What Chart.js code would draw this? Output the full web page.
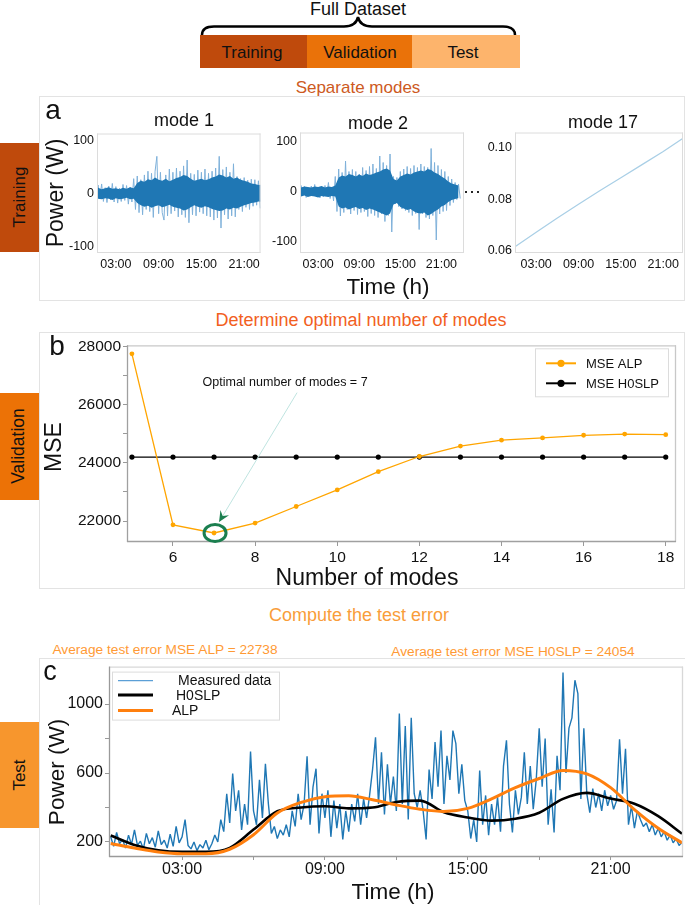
<!DOCTYPE html>
<html>
<head>
<meta charset="utf-8">
<script src="https://cdn.jsdelivr.net/npm/chart.js@4.4.1/dist/chart.umd.min.js"></script>
<style>
  body { margin: 0; background: #fff; font-family: "Liberation Sans", Arial, sans-serif; color: #111; }
  #fig { position: relative; width: 685px; height: 905px; overflow: hidden; background: #fff; }
  canvas { position: absolute; }
  .t { position: absolute; white-space: nowrap; line-height: 1; transform: translate(-50%, -50%); }
  .r { transform: translate(-50%, -50%) rotate(-90deg); }
  .panel { position: absolute; border: 1.5px solid #e3e3e3; box-sizing: border-box; }
  .blk { position: absolute; }
</style>
</head>
<body>
<div id="fig">
  <!-- dataset split -->
  <div class="t" style="left:358px;top:9px;font-size:18px">Full Dataset</div>
  <svg class="blk" style="left:0;top:0" width="685" height="40">
    <path d="M202,35 Q202,26.5 214,26.5 L344,26.5 Q356,26.5 358,17 Q360,26.5 372,26.5 L503,26.5 Q515,26.5 515,35" fill="none" stroke="#000" stroke-width="2.5"/>
  </svg>
  <div class="blk" style="left:200px;top:35px;width:107px;height:33px;background:#BF4A0C"></div>
  <div class="blk" style="left:307px;top:35px;width:105px;height:33px;background:#EA7209"></div>
  <div class="blk" style="left:412px;top:35px;width:108px;height:33px;background:#FDB46C"></div>
  <div class="t" style="left:252px;top:52px;font-size:17px">Training</div>
  <div class="t" style="left:360px;top:52px;font-size:17px">Validation</div>
  <div class="t" style="left:463px;top:52px;font-size:17px">Test</div>

  <!-- panel a -->
  <div class="t" style="left:358px;top:87px;font-size:17px;color:#CD5A1E">Separate modes</div>
  <div class="panel" style="left:39px;top:96px;width:646px;height:205px"></div>
  <div class="blk" style="left:0;top:143px;width:39px;height:109px;background:#BF4A0C"></div>
  <div class="t r" style="left:19px;top:197px;font-size:17px">Training</div>

  <!-- panel b -->
  <div class="t" style="left:361px;top:320px;font-size:18px;color:#F2601E">Determine optimal number of modes</div>
  <div class="panel" style="left:39px;top:332px;width:646px;height:257px"></div>
  <div class="blk" style="left:0;top:393px;width:39px;height:107px;background:#EC7206"></div>
  <div class="t r" style="left:19px;top:446px;font-size:17.5px">Validation</div>

  <!-- panel c -->
  <div class="t" style="left:359px;top:615px;font-size:18px;color:#F99D3A">Compute the test error</div>
  <div class="t" style="left:165px;top:650px;font-size:13.7px;color:#FF9A35">Average test error MSE ALP = 22738</div>
  <div class="t" style="left:513px;top:652px;font-size:13.7px;color:#FF9A35">Average test error MSE H0SLP = 24054</div>
  <div class="panel" style="left:39px;top:658px;width:660px;height:260px"></div>
  <div class="blk" style="left:0;top:722px;width:39px;height:106px;background:#F7962D"></div>
  <div class="t r" style="left:19px;top:775px;font-size:17px">Test</div>

  <canvas id="mode1"></canvas>
  <canvas id="mode2"></canvas>
  <canvas id="mode17"></canvas>
  <canvas id="mseChart"></canvas>
  <canvas id="testChart"></canvas>

  <div class="t" style="left:53px;top:110px;font-size:28px">a</div>
  <div class="t r" style="left:55px;top:193px;font-size:23px">Power (W)</div>
  <div class="t" style="left:184px;top:120px;font-size:18px">mode 1</div>
  <div class="t" style="left:378px;top:123px;font-size:18px">mode 2</div>
  <div class="t" style="left:603px;top:122px;font-size:18px">mode 17</div>
  <div class="t" style="left:472px;top:191px;font-size:18px">&#8943;</div>
  <div class="t" style="left:388px;top:287px;font-size:22.5px">Time (h)</div>

  <div class="t" style="left:57px;top:346px;font-size:28px">b</div>
  <div class="t r" style="left:53px;top:447px;font-size:23px">MSE</div>
  <div class="t" style="left:367px;top:577px;font-size:23px">Number of modes</div>

  <div class="t" style="left:50px;top:671px;font-size:27px">c</div>
  <div class="t r" style="left:57px;top:772px;font-size:22.5px">Power (W)</div>
  <div class="t" style="left:393px;top:892px;font-size:22.5px">Time (h)</div>
</div>

<script>
// ---- values ----
const timeTicks = [3, 9, 15, 21];
const timeTickLabels = ['03:00', '09:00', '15:00', '21:00'];
const timeMinor = [6, 12, 18];

// training modes: spikes, one sample every 15 min from 00:00
const modeStep = 0.25;
const mode1 = [
  12, -14, 16, -10, 18, -15, 11, -17,
  14, -12, 19, -16, 13, -18, 10, -15,
  17, -13, 15, -20, 12, -16, 28, -30,
  33, -36, 26, -40, 35, -30, 42, -34,
  38, -45, 42, 70, -38, 40, -36, -50,
  35, -42, 46, -38, 40, -33, 48, -44,
  42, -40, 52, -45, 63, -55, 38, -40,
  36, -42, 44, -35, 40, -38, 46, -42,
  38, -44, 42, -50, 48, -46, 70, -65,
  45, -40, 50, -48, 40, -42, 56, -44,
  32, -30, 28, -34, 30, -26, 25, -30,
  27, -24, 26, -22, 24, -28
];
const mode2 = [
  8, -10, 12, -7, 10, -12, 6, -9,
  11, -8, 14, -10, 9, -13, 7, -11,
  12, -9, 18, -14, 8, -19, 30, -40,
  45, -49, 38, -42, 61, -36, 40, -45,
  44, -38, 40, -46, 35, -42, 48, -40,
  42, -50, 50, -44, 55, -48, 46, -52,
  71, -45, 58, -60, 52, -48, 75, -81,
  30, -25, 28, -30, 40, -35, 45, -38,
  50, -42, 46, -48, 52, -44, 48, -76,
  55, -45, 50, -52, 48, -55, 86, -48,
  58, -97, 52, -45, 44, -40, 40, -38,
  30, -28, 25, -22, 18, -16, 15, -14
];
// dense core of each mode, every 30 min from 00:00
const coreStep = 0.5;
const mode1Upper = [
  9, 11, 8, 10, 12, 9, 10, 8, 11, 9, 12, 10,
  20, 24, 22, 27, 25, 30, 26, 24, 28, 23, 26, 29,
  31, 35, 33, 28, 24, 26, 28, 25, 27, 30, 32, 36,
  34, 30, 33, 28, 30, 26, 24, 22, 19, 18, 16, 17
];
const mode1Lower = [
  -9, -10, -11, -9, -10, -12, -9, -11, -10, -8, -11, -10,
  -18, -22, -25, -23, -27, -24, -22, -26, -24, -21, -25, -27,
  -28, -32, -30, -26, -22, -25, -27, -24, -26, -29, -31, -33,
  -32, -28, -30, -27, -28, -25, -22, -20, -18, -17, -15, -16
];
const mode2Upper = [
  9, 8, 10, 9, 8, 10, 9, 11, 8, 10, 9, 12,
  28, 32, 30, 35, 33, 30, 34, 31, 36, 33, 35, 38,
  40, 44, 46, 42, 25, 22, 30, 33, 36, 34, 38, 40,
  42, 40, 45, 43, 38, 35, 30, 26, 20, 16, 14, 12
];
const mode2Lower = [
  -9, -10, -8, -11, -9, -10, -12, -9, -10, -11, -9, -10,
  -30, -34, -32, -36, -33, -31, -35, -33, -37, -34, -36, -39,
  -42, -45, -48, -44, -26, -23, -31, -34, -37, -35, -40, -43,
  -44, -42, -48, -45, -40, -36, -30, -27, -21, -17, -15, -13
];
const mode17Hours = [0, 3, 6, 9, 12, 15, 18, 21, 23.8];
const mode17 = [0.0616, 0.0672, 0.0727, 0.0780, 0.0832, 0.0882, 0.0933, 0.0984, 0.1035];
const modeTicks = [-100, 0, 100];
const modeTickLabels = ['-100', '0', '100'];
const mode17Ticks = [0.06, 0.08, 0.10];
const mode17TickLabels = ['0.06', '0.08', '0.10'];

// validation MSE
const nModes = [5, 6, 7, 8, 9, 10, 11, 12, 13, 14, 15, 16, 17, 18];
const mseAlp = [27750, 21870, 21590, 21930, 22500, 23070, 23700, 24220, 24580, 24780, 24860, 24950, 24990, 24970];
const mseH0slp = [24200, 24200, 24200, 24200, 24200, 24200, 24200, 24200, 24200, 24200, 24200, 24200, 24200, 24200];
const mseTicks = [22000, 24000, 26000, 28000];
const mseTickLabels = ['22000', '24000', '26000', '28000'];
const mseMinor = [23000, 25000, 27000];
const nModeTicks = [6, 8, 10, 12, 14, 16, 18];
const nModeTickLabels = ['6', '8', '10', '12', '14', '16', '18'];

// test day, measured power every 7.5 min from 00:00
const testStep = 0.125;
const measured = [
  230, 175, 255, 190, 215, 165, 240, 185,
  270, 180, 205, 160, 250, 190, 225, 170,
  265, 185, 210, 165, 245, 175, 290, 195,
  230, 330, 180, 160, 200, 150, 185, 165,
  210, 155, 190, 240, 200, 330, 260, 480,
  310, 597, 380, 500, 270, 420, 300, 724,
  380, 300, 560, 340, 653, 420, 250, 290,
  220, 270, 240, 300, 230, 380, 290, 480,
  330, 420, 697, 300, 520, 625, 250, 480,
  340, 500, 230, 440, 280, 420, 215, 380,
  260, 420, 320, 480, 300, 450, 340, 470,
  620, 807, 420, 720, 360, 650, 420, 580,
  380, 945, 420, 873, 330, 920, 480, 400,
  500, 380, 215, 620, 450, 780, 520, 846,
  420, 700, 560, 846, 770, 480, 650, 440,
  380, 220, 330, 200, 614, 300, 470, 240,
  420, 300, 460, 260, 640, 790, 420, 255,
  500, 360, 460, 720, 420, 640, 390, 560,
  860, 520, 800, 300, 505, 255, 700, 500,
  1183, 600, 860, 920, 1138, 1060, 450, 860,
  480, 370, 510, 400, 480, 380, 500, 410,
  470, 390, 440, 795, 480, 740, 300, 410,
  280, 380, 330, 290, 310, 260, 300, 240,
  280, 230, 260, 210, 240, 195, 220, 180,
  200
];
const curveHours = [0, 1, 2, 3, 4, 5, 6, 7, 8, 9, 10, 11, 12, 13, 14, 15, 16, 17, 18, 19, 20, 21, 22, 23, 24];
const h0slp = [238, 183, 152, 143, 143, 166, 272, 378, 400, 407, 395, 400, 432, 440, 372, 342, 324, 335, 370, 450, 485, 452, 422, 350, 248];
const alp = [191, 165, 142, 132, 132, 158, 242, 368, 430, 462, 468, 445, 415, 390, 377, 395, 450, 515, 568, 615, 595, 515, 388, 280, 195];
const powerTicks = [200, 600, 1000];
const powerTickLabels = ['200', '600', '1000'];
const powerMinor = [400, 800];

// ---- helpers ----
Chart.defaults.font.family = '"Liberation Sans", Arial, sans-serif';
Chart.defaults.color = '#111';

const series = (vals, dx) => vals.map((v, i) => ({ x: i * dx, y: v }));
const pairs = (xs, ys) => xs.map((x, i) => ({ x, y: ys[i] }));

// chart area is given in page pixels; the canvas is sized round it
function place(id, g) {
  const c = document.getElementById(id);
  c.width = g.r - g.l + g.yw + 2;
  c.height = g.b - g.t + 8 + g.xh;
  c.style.left = (g.l - g.yw) + 'px';
  c.style.top = (g.t - 8) + 'px';
  return c;
}

function axis(min, max, major, labels, minor, size, tick, pad, fit) {
  return {
    type: 'linear', min, max,
    afterBuildTicks: s => { s.ticks = major.concat(minor).sort((a, b) => a - b).map(value => ({ value })); },
    afterFit: fit,
    ticks: {
      autoSkip: false, maxRotation: 0, padding: pad, font: { size }, color: '#111',
      callback: v => { const k = major.indexOf(v); return k < 0 ? '' : labels[k]; }
    },
    grid: { display: true, drawOnChartArea: false, drawTicks: tick > 0, tickLength: tick, color: '#999' },
    border: { display: false }
  };
}

const frame = {
  id: 'frame',
  afterDatasetsDraw(chart, args, o) {
    const a = chart.chartArea, ctx = chart.ctx;
    const side = (col, x1, y1, x2, y2) => {
      ctx.strokeStyle = col; ctx.beginPath(); ctx.moveTo(x1, y1); ctx.lineTo(x2, y2); ctx.stroke();
    };
    ctx.save();
    ctx.lineWidth = o.width || 1;
    side(o.top, a.left, a.top + 0.5, a.right, a.top + 0.5);
    side(o.right, a.right - 0.5, a.top, a.right - 0.5, a.bottom);
    side(o.bottom, a.left, a.bottom - 0.5, a.right, a.bottom - 0.5);
    side(o.left, a.left + 0.5, a.top, a.left + 0.5, a.bottom);
    ctx.restore();
  }
};

const boxLegend = {
  id: 'boxLegend',
  afterDraw(chart, args, o) {
    if (!o.items) return;
    const ctx = chart.ctx, a = chart.chartArea;
    const x = o.right != null ? a.right - o.right - o.w : a.left + o.left;
    const y = a.top + o.top;
    ctx.save();
    ctx.fillStyle = 'rgba(255,255,255,0.9)';
    ctx.fillRect(x, y, o.w, o.h);
    ctx.strokeStyle = '#dcdcdc'; ctx.lineWidth = 1;
    ctx.strokeRect(x + 0.5, y + 0.5, o.w, o.h);
    o.items.forEach(it => {
      const ds = chart.data.datasets[it.ds];
      const ly = y + it.y;
      ctx.strokeStyle = it.color || ds.borderColor;
      ctx.lineWidth = it.lw || ds.borderWidth;
      ctx.beginPath(); ctx.moveTo(x + o.lx0, ly); ctx.lineTo(x + o.lx1, ly); ctx.stroke();
      if (it.marker) {
        ctx.fillStyle = ds.borderColor;
        ctx.beginPath(); ctx.arc(x + (o.lx0 + o.lx1) / 2, ly, it.marker, 0, 2 * Math.PI); ctx.fill();
      }
      ctx.fillStyle = '#111'; ctx.font = o.font; ctx.textBaseline = 'middle'; ctx.textAlign = 'left';
      ctx.fillText(ds.label, x + it.tx, ly + 1);
    });
    ctx.restore();
  }
};

// note, arrow and ring around the best number of modes
const optimalMark = {
  id: 'optimalMark',
  afterDatasetsDraw(chart) {
    const xs = chart.scales.x, ys = chart.scales.y, ctx = chart.ctx;
    const best = mseAlp.indexOf(Math.min(...mseAlp));
    const px = xs.getPixelForValue(nModes[best]), py = ys.getPixelForValue(mseAlp[best]);
    const tx = xs.getPixelForValue(8.73), ty = ys.getPixelForValue(26760);
    ctx.save();
    ctx.font = '12.5px "Liberation Sans", Arial, sans-serif';
    ctx.fillStyle = '#111'; ctx.textAlign = 'center'; ctx.textBaseline = 'middle';
    ctx.fillText('Optimal number of modes = ' + nModes[best], tx, ty);
    const sx = tx + 12, sy = ty + 10, ex = px + 5, ey = py - 11;
    ctx.strokeStyle = '#bfe4e0'; ctx.lineWidth = 1;
    ctx.beginPath(); ctx.moveTo(sx, sy); ctx.lineTo(ex, ey); ctx.stroke();
    const ang = Math.atan2(ey - sy, ex - sx);
    ctx.fillStyle = '#1b7f4f';
    ctx.beginPath();
    ctx.moveTo(ex, ey);
    ctx.lineTo(ex - 11 * Math.cos(ang) + 5 * Math.sin(ang), ey - 11 * Math.sin(ang) - 5 * Math.cos(ang));
    ctx.lineTo(ex - 7 * Math.cos(ang), ey - 7 * Math.sin(ang));
    ctx.lineTo(ex - 11 * Math.cos(ang) - 5 * Math.sin(ang), ey - 11 * Math.sin(ang) + 5 * Math.cos(ang));
    ctx.closePath(); ctx.fill();
    ctx.strokeStyle = '#1b7f4f'; ctx.lineWidth = 3;
    ctx.beginPath(); ctx.ellipse(px + 1, py, 11, 8.5, 0, 0, 2 * Math.PI); ctx.stroke();
    ctx.restore();
  }
};

const base = {
  responsive: false, animation: false, devicePixelRatio: 1,
  layout: { padding: { top: 8, right: 2, left: 0, bottom: 0 } },
  plugins: { legend: { display: false }, tooltip: { enabled: false } },
  elements: { point: { radius: 0 } }
};
const light = { top: '#dcdcdc', right: '#dcdcdc', bottom: '#dcdcdc', left: '#dcdcdc' };

// ---- panel a: three modes ----
function modeChart(id, g, datasets, yMin, yMax, yTicks, yLabels, xMin, xMax) {
  new Chart(place(id, g), {
    type: 'line',
    data: { datasets },
    options: Object.assign({}, base, {
      parsing: false,
      scales: {
        x: axis(xMin, xMax, timeTicks, timeTickLabels, [], 12.5, 0, 4, s => { s.height = g.xh; }),
        y: axis(yMin, yMax, yTicks, yLabels, [], 12.5, 0, 3, s => { s.width = g.yw; })
      },
      plugins: Object.assign({}, base.plugins, { frame: light })
    }),
    plugins: [frame]
  });
}
function noisyMode(spikes, upper, lower) {
  return [
    { data: series(upper, coreStep), borderWidth: 0, borderColor: '#1f77b4', order: 2 },
    { data: series(lower, coreStep), borderWidth: 0, borderColor: '#1f77b4',
      fill: '-1', backgroundColor: '#1f77b4', order: 1 },
    { data: series(spikes, modeStep), borderColor: '#7fb1da', borderWidth: 1,
      borderJoinStyle: 'bevel', order: 3 }
  ];
}
modeChart('mode1', { l: 97, t: 131, r: 262, b: 253, yw: 40, xh: 24 }, noisyMode(mode1, mode1Upper, mode1Lower),
  -112, 113, modeTicks, modeTickLabels, 0.35, 23.3);
modeChart('mode2', { l: 300, t: 130, r: 464, b: 253, yw: 40, xh: 24 }, noisyMode(mode2, mode2Upper, mode2Lower),
  -123, 118, modeTicks, modeTickLabels, 0.35, 24.3);
modeChart('mode17', { l: 515, t: 130, r: 683, b: 253, yw: 40, xh: 24 },
  [{ data: pairs(mode17Hours, mode17), borderColor: '#a9cfe6', borderWidth: 1.2 }],
  0.0592, 0.1057, mode17Ticks, mode17TickLabels, 0, 23.8);

// ---- panel b: validation MSE ----
const gB = { l: 127, t: 342, r: 678, b: 542, yw: 70, xh: 26 };
new Chart(place('mseChart', gB), {
  type: 'line',
  data: {
    datasets: [
      { label: 'MSE ALP', data: pairs(nModes, mseAlp), borderColor: '#FFA500', borderWidth: 1.3,
        pointRadius: 2.4, pointBackgroundColor: '#FFA500', pointBorderWidth: 0, order: 1 },
      { label: 'MSE H0SLP', data: pairs(nModes, mseH0slp), borderColor: '#000', borderWidth: 1.3,
        pointRadius: 2.6, pointBackgroundColor: '#000', pointBorderWidth: 0, order: 2 }
    ]
  },
  options: Object.assign({}, base, {
    scales: {
      x: axis(4.88, 18.25, nModeTicks, nModeTickLabels, [], 15.5, 4, 2, s => { s.height = gB.xh; }),
      y: axis(21280, 28044, mseTicks, mseTickLabels, mseMinor, 15.5, 4, 2, s => { s.width = gB.yw; })
    },
    plugins: Object.assign({}, base.plugins, {
      frame: { top: '#c8c8c8', right: '#c8c8c8', bottom: '#a0a0a0', left: '#a0a0a0', width: 1.3 },
      boxLegend: {
        right: 8, top: 3, w: 133, h: 48, lx0: 11, lx1: 41, font: '13px "Liberation Sans", Arial, sans-serif',
        items: [{ ds: 0, y: 15, tx: 51, lw: 2, marker: 3.6 }, { ds: 1, y: 35, tx: 51, lw: 2, marker: 3.6 }]
      }
    })
  }),
  plugins: [frame, optimalMark, boxLegend]
});

// ---- panel c: test day ----
const gC = { l: 109, t: 663, r: 683, b: 857, yw: 70, xh: 28 };
new Chart(place('testChart', gC), {
  type: 'line',
  data: {
    datasets: [
      { label: 'Measured data', data: series(measured, testStep), borderColor: '#1f77b4', borderWidth: 1.4,
        borderJoinStyle: 'bevel', order: 3 },
      { label: 'H0SLP', data: pairs(curveHours, h0slp), borderColor: '#000', borderWidth: 2.6,
        cubicInterpolationMode: 'monotone', order: 2 },
      { label: 'ALP', data: pairs(curveHours, alp), borderColor: '#ff7f0e', borderWidth: 3,
        cubicInterpolationMode: 'monotone', order: 1 }
    ]
  },
  options: Object.assign({}, base, {
    parsing: false,
    scales: {
      x: axis(-0.07, 24.04, timeTicks, timeTickLabels, timeMinor, 16, 3, 0, s => { s.height = gC.xh; }),
      y: axis(113, 1217, powerTicks, powerTickLabels, powerMinor, 16, 4, 2, s => { s.width = gC.yw; })
    },
    plugins: Object.assign({}, base.plugins, {
      frame: { top: '#d8d8d8', right: '#d8d8d8', bottom: '#9a9a9a', left: '#9a9a9a', width: 1.3 },
      boxLegend: {
        left: 3, top: 5, w: 167, h: 48, lx0: 6, lx1: 41, font: '14px "Liberation Sans", Arial, sans-serif',
        items: [
          { ds: 0, y: 9, tx: 66, lw: 1.2, color: '#5b9fd6' },
          { ds: 1, y: 23.5, tx: 64, lw: 3 },
          { ds: 2, y: 39, tx: 60, lw: 3 }
        ]
      }
    })
  }),
  plugins: [frame, boxLegend]
});
</script>
</body>
</html>
